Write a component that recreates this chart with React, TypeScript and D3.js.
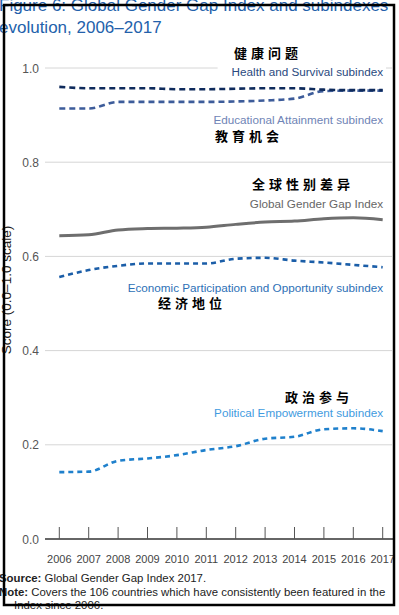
import { useEffect } from 'react'
import * as d3 from 'd3'

const W = 399, H = 615
const FONT = '"Liberation Sans", Arial, Helvetica, sans-serif'
const CJK = '"Noto Sans CJK SC", sans-serif'

const years = [2006, 2007, 2008, 2009, 2010, 2011, 2012, 2013, 2014, 2015, 2016, 2017]
const yTicks = [0, 0.2, 0.4, 0.6, 0.8, 1.0]

const health = [0.960, 0.957, 0.957, 0.957, 0.955, 0.955, 0.956, 0.957, 0.957, 0.954, 0.953, 0.953]
const education = [0.914, 0.914, 0.928, 0.928, 0.928, 0.928, 0.929, 0.931, 0.935, 0.951, 0.952, 0.952]
const gggi = [0.644, 0.646, 0.656, 0.659, 0.660, 0.662, 0.668, 0.673, 0.675, 0.680, 0.682, 0.678]
const economic = [0.556, 0.571, 0.580, 0.585, 0.585, 0.585, 0.595, 0.597, 0.591, 0.587, 0.582, 0.577]
const political = [0.142, 0.143, 0.166, 0.171, 0.178, 0.189, 0.197, 0.213, 0.217, 0.233, 0.235, 0.229]

const seriesNames = ['Political Empowerment subindex', 'Economic Participation and Opportunity subindex',
  'Global Gender Gap Index', 'Educational Attainment subindex', 'Health and Survival subindex']
const seriesCn = ['政治参与', '经济地位', '全球性别差异', '教育机会', '健康问题']

export default function App() {
  useEffect(() => {
    document.body.style.margin = '0'
  }, [])

  const x = d3.scaleLinear().domain([2006, 2017]).range([59.3, 382.7])
  const y = d3.scaleLinear().domain([0, 1]).range([539, 68])

  const line = d3.line<number>()
    .x((_, i) => x(years[i]))
    .y(d => y(d))
    .curve(d3.curveMonotoneX)

  const series = [
    { values: political, color: '#1f80cc', width: 2.6, dash: '5,4' },
    { values: economic, color: '#1b5ea8', width: 2.6, dash: '5,4' },
    { values: gggi, color: '#6e6e6e', width: 3, dash: null },
    { values: education, color: '#3d5c9a', width: 2.6, dash: '6,4' },
    { values: health, color: '#0f2b5c', width: 2.6, dash: '6,4' },
  ]

  // label placement: english right-aligned at x=383 (center y), chinese from left x (center y)
  const labels = [
    { en: seriesNames[4], cn: seriesCn[4], color: '#2a4a80', ey: 72, cx: 234, cy: 53 },
    { en: seriesNames[3], cn: seriesCn[3], color: '#6f84b6', ey: 119.5, cx: 215, cy: 135.5 },
    { en: seriesNames[2], cn: seriesCn[2], color: '#666666', ey: 203.5, cx: 252, cy: 184 },
    { en: seriesNames[1], cn: seriesCn[1], color: '#2d70b6', ey: 287.5, cx: 158, cy: 302.5 },
    { en: seriesNames[0], cn: seriesCn[0], color: '#3f9be0', ey: 412.5, cx: 285, cy: 397 },
  ]

  return (
    <div style={{ position: 'absolute', left: 0, top: 0 }}>
      <svg width={W} height={H} style={{ display: 'block', background: '#fff' }}>
        {/* gridlines */}
        {yTicks.slice(1).map(t => (
          <line key={t} x1={45} x2={392} y1={y(t)} y2={y(t)} stroke="#d6d6d6" strokeWidth={1} />
        ))}
        {yTicks.map(t => (
          <text key={'l' + t} x={39} y={y(t) + 4.5} textAnchor="end" fontFamily={FONT}
            fontSize={12} fill="#555">{t.toFixed(1)}</text>
        ))}

        {/* baseline + year ticks */}
        <line x1={45} x2={393} y1={y(0)} y2={y(0)} stroke="#333" strokeWidth={1.5} />
        {years.map(yr => (
          <g key={yr}>
            <line x1={x(yr)} x2={x(yr)} y1={y(0) - 12} y2={y(0)} stroke="#555" strokeWidth={1} />
            <text x={x(yr)} y={563} textAnchor="middle" fontFamily={FONT} fontSize={11} fill="#444">{yr}</text>
          </g>
        ))}

        {/* english labels with white background */}
        {labels.map(l => {
          const w = l.en.length * 5.8
          return (
            <g key={l.en}>
              <rect x={383 - w - 3} y={l.ey - 6.5} width={w + 6} height={13} fill="#fff" />
              <text x={383} y={l.ey + 4} textAnchor="end" fontFamily={FONT} fontSize={11.7} fill={l.color}>{l.en}</text>
            </g>
          )
        })}
        {labels.map(l => (
          <text key={l.cn} x={l.cx} y={l.cy + 5} fontFamily={CJK} fontWeight={700} fontSize={13}
            letterSpacing={4} fill="#000">{l.cn}</text>
        ))}

        {/* series */}
        {series.map((s, i) => (
          <path key={i} d={line(s.values) || ''} fill="none" stroke={s.color} strokeWidth={s.width}
            strokeDasharray={s.dash || undefined} />
        ))}

        {/* y axis title */}
        <text transform="translate(11,290) rotate(-90)" textAnchor="middle" fontFamily={FONT}
          fontSize={13.5} fill="#222">Score (0.0–1.0 scale)</text>

        {/* title */}
        <g fontFamily={FONT} fontSize={17} fill="#2361ab">
          <text x={-1} y={11}>Figure 6: Global Gender Gap Index and subindexes</text>
          <text x={-1} y={33}>evolution, 2006–2017</text>
        </g>

        {/* footer */}
        <g fontFamily={FONT} fontSize={11.4} fill="#222">
          <text x={-1} y={582}><tspan fontWeight={700}>Source:</tspan> Global Gender Gap Index 2017.</text>
          <text x={-1} y={596}><tspan fontWeight={700}>Note:</tspan> Covers the 106 countries which have consistently been featured in the</text>
          <text x={14} y={609}>Index since 2006.</text>
        </g>

        {/* frame */}
        <rect x={4} y={5} width={390} height={600} fill="none" stroke="#000" strokeWidth={2.5} />
      </svg>
    </div>
  )
}
